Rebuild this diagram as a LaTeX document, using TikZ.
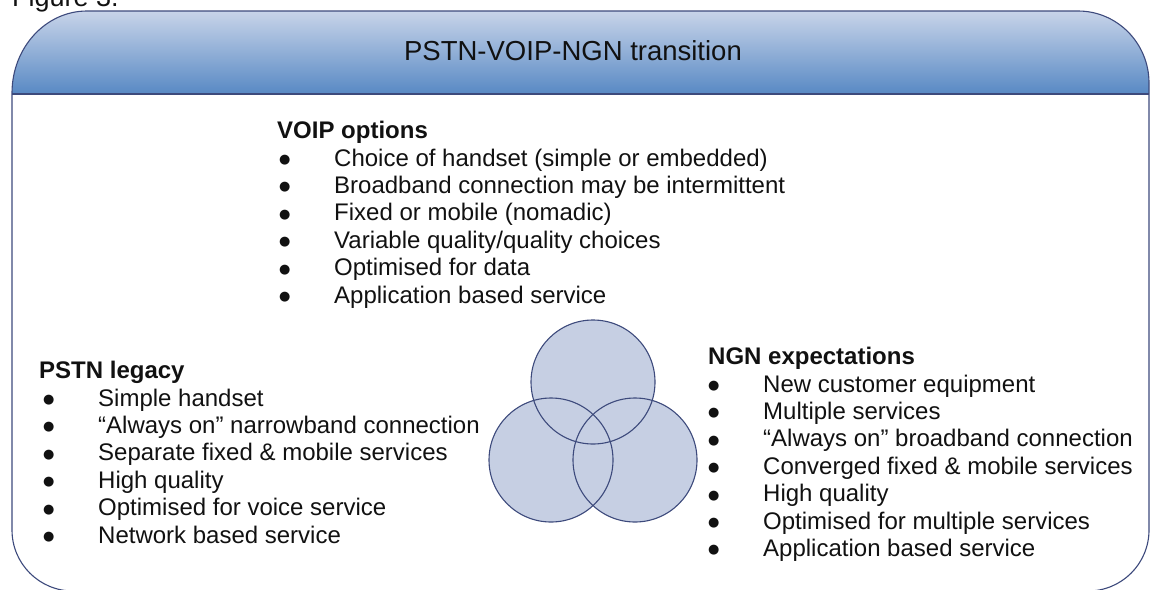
\documentclass[tikz,border=0pt]{standalone}
\usepackage{fontspec}
\setmainfont{Liberation Sans}
\newfontfamily\dotfont{DejaVu Sans}
\usetikzlibrary{positioning}
\definecolor{EDGE}{HTML}{3D4A7C}
\definecolor{BANDTOP}{HTML}{C8D4E9}
\definecolor{BANDBOT}{HTML}{5889C4}
\definecolor{RING}{HTML}{C6CFE3}
\definecolor{INK}{HTML}{111111}

\newcommand{\bodysize}{\fontsize{24}{27.4}\selectfont}
\newcommand{\dotmark}{\raisebox{2.6pt}{\dotfont\fontsize{13}{14}\selectfont ●}}

\begin{document}
\begin{tikzpicture}[
  x=1pt, y=1pt,
  head/.style={anchor=base west, inner sep=0pt, font=\bodysize\bfseries, text=INK},
  items/.style={anchor=base west, inner sep=0pt, font=\bodysize, text=INK},
  ring/.style={circle, minimum size=124pt, inner sep=0pt, fill=RING},
  frame/.style={draw=EDGE, line width=1.1pt},
]
\useasboundingbox (0,0) rectangle (1150,-589);
\clip (0,0) rectangle (1150,-589);

\node[anchor=base west, inner sep=0pt, font=\fontsize{27}{30}\selectfont, text=INK] (fig) at (12,-6) {Figure 3.};

% header band with shaded fill
\shade[top color=BANDTOP, bottom color=BANDBOT]
  (12,-94) -- (12,-93) arc[start angle=180, end angle=90, x radius=75, y radius=82]
  -- (1078,-11) arc[start angle=90, end angle=0, x radius=71, y radius=72]
  -- (1149,-94) -- cycle;

% outer frame
\draw[frame]
  (12,-93) arc[start angle=180, end angle=90, x radius=75, y radius=82]
  -- (1078,-11) arc[start angle=90, end angle=0, x radius=71, y radius=72]
  -- (1149,-530) arc[start angle=0, end angle=-90, radius=61]
  -- (73,-591) arc[start angle=270, end angle=180, radius=61]
  -- cycle;
\draw[frame] (12,-94) -- (1149,-94);

\node[font=\fontsize{27.5}{32}\selectfont, text=INK] (title) at (573,-51) {PSTN-VOIP-NGN transition};

% three overlapping circles
\node[ring] (cvoip) at (593,-382) {};
\node[ring] (cpstn) at (551,-460) {};
\node[ring] (cngn)  at (635,-460) {};
\draw[frame] (cvoip.center) circle (62);
\draw[frame] (cpstn.center) circle (62);
\draw[frame] (cngn.center) circle (62);

% VOIP options
\node[head] (hvoip) at (277,-138) {VOIP options};
\node[items] (lvoip) at (279,-166) {%
  \begin{tabular}[t]{@{}p{55pt}@{}l@{}}
  \dotmark & Choice of handset (simple or embedded)\\
  \dotmark & Broadband connection may be intermittent\\
  \dotmark & Fixed or mobile (nomadic)\\
  \dotmark & Variable quality/quality choices\\
  \dotmark & Optimised for data\\
  \dotmark & Application based service
  \end{tabular}};

% PSTN legacy
\node[head] (hpstn) at (39,-378) {PSTN legacy};
\node[items] (lpstn) at (43,-406) {%
  \begin{tabular}[t]{@{}p{55pt}@{}l@{}}
  \dotmark & Simple handset\\
  \dotmark & “Always on” narrowband connection\\
  \dotmark & Separate fixed \& mobile services\\
  \dotmark & High quality\\
  \dotmark & Optimised for voice service\\
  \dotmark & Network based service
  \end{tabular}};

% NGN expectations
\node[head] (hngn) at (708,-364) {NGN expectations};
\node[items] (lngn) at (708,-392) {%
  \begin{tabular}[t]{@{}p{55pt}@{}l@{}}
  \dotmark & New customer equipment\\
  \dotmark & Multiple services\\
  \dotmark & “Always on” broadband connection\\
  \dotmark & Converged fixed \& mobile services\\
  \dotmark & High quality\\
  \dotmark & Optimised for multiple services\\
  \dotmark & Application based service
  \end{tabular}};

\end{tikzpicture}
\end{document}
